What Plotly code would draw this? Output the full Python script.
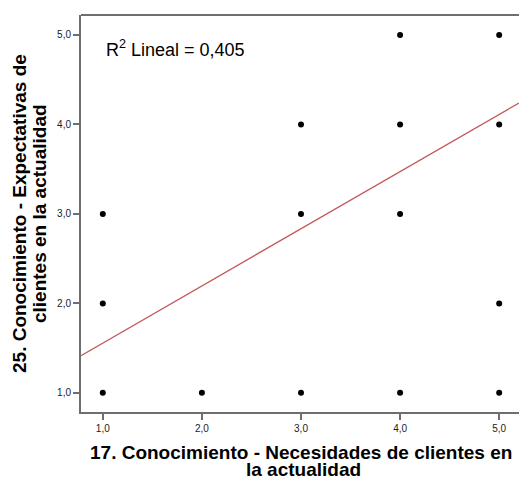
import plotly.graph_objects as go

# Observed response pairs (item 17 vs item 25)
x_vals = [1, 1, 1, 2, 3, 3, 3, 4, 4, 4, 4, 5, 5, 5, 5]
y_vals = [1, 2, 3, 1, 1, 3, 4, 1, 3, 4, 5, 1, 2, 4, 5]

# Linear fit coefficients and goodness of fit
fit_intercept = 0.917
fit_slope = 0.639
r_squared = 0.405

tick_vals = [1, 2, 3, 4, 5]
x_range = [0.78, 5.2]
y_range = [0.786, 5.223]

x_title_lines = ["17. Conocimiento - Necesidades de clientes en", "la actualidad"]
y_title_lines = ["25. Conocimiento - Expectativas de", "clientes en la actualidad"]

FONT = "Arial, Liberation Sans, sans-serif"
FRAME = "#6e6e6e"

fit_x = list(x_range)
fit_y = [fit_intercept + fit_slope * v for v in fit_x]

fig = go.Figure()
fig.add_trace(go.Scatter(
    x=fit_x, y=fit_y, mode="lines",
    line=dict(color="#c4585a", width=1.3),
    hoverinfo="skip", showlegend=False,
))
fig.add_trace(go.Scatter(
    x=x_vals, y=y_vals, mode="markers",
    marker=dict(color="black", size=6),
    showlegend=False,
))

axis_common = dict(
    tickvals=tick_vals, tickformat=".1f",
    showgrid=False, zeroline=False,
    showline=True, linecolor=FRAME, linewidth=2,
    ticks="outside", ticklen=6, tickwidth=1.5, tickcolor=FRAME,
    tickfont=dict(family=FONT, size=10, color="#222222"),
)
fig.update_xaxes(range=x_range, **axis_common)
fig.update_yaxes(range=y_range, **axis_common)

# top edge of the frame
fig.add_shape(type="line", xref="paper", yref="paper", x0=0, x1=1, y0=1, y1=1,
              line=dict(color=FRAME, width=2))

H = 479
plot_top, plot_bottom = 15, 412
plot_h = plot_bottom - plot_top


def py(pix):
    """pixel row -> paper y"""
    return (plot_bottom - pix) / plot_h


def px(pix):
    """pixel column -> paper x"""
    return (pix - 81) / (519 - 81)


annotations = [
    dict(text="R<sup>2</sup> Lineal = " + f"{r_squared:.3f}".replace(".", ","),
         xref="paper", yref="paper", x=px(104), y=py(48), xanchor="left", yanchor="middle",
         showarrow=False, font=dict(family=FONT, size=18, color="black")),
    dict(text="<b>" + x_title_lines[0] + "</b>",
         xref="paper", yref="paper", x=px(301), y=py(452), xanchor="center", yanchor="middle",
         showarrow=False, font=dict(family=FONT, size=19, color="black")),
    dict(text="<b>" + x_title_lines[1] + "</b>",
         xref="paper", yref="paper", x=px(303), y=py(470), xanchor="center", yanchor="middle",
         showarrow=False, font=dict(family=FONT, size=19, color="black")),
    dict(text="<b>" + y_title_lines[0] + "</b>", textangle=-90,
         xref="paper", yref="paper", x=px(20), y=py(214), xanchor="center", yanchor="middle",
         showarrow=False, font=dict(family=FONT, size=19, color="black")),
    dict(text="<b>" + y_title_lines[1] + "</b>", textangle=-90,
         xref="paper", yref="paper", x=px(40), y=py(214), xanchor="center", yanchor="middle",
         showarrow=False, font=dict(family=FONT, size=19, color="black")),
]

fig.update_layout(
    width=519, height=H,
    margin=dict(l=81, r=0, t=plot_top, b=H - plot_bottom),
    plot_bgcolor="white", paper_bgcolor="white",
    separators=",.",
    annotations=annotations,
    font=dict(family=FONT),
)

fig.write_html("out.html")
